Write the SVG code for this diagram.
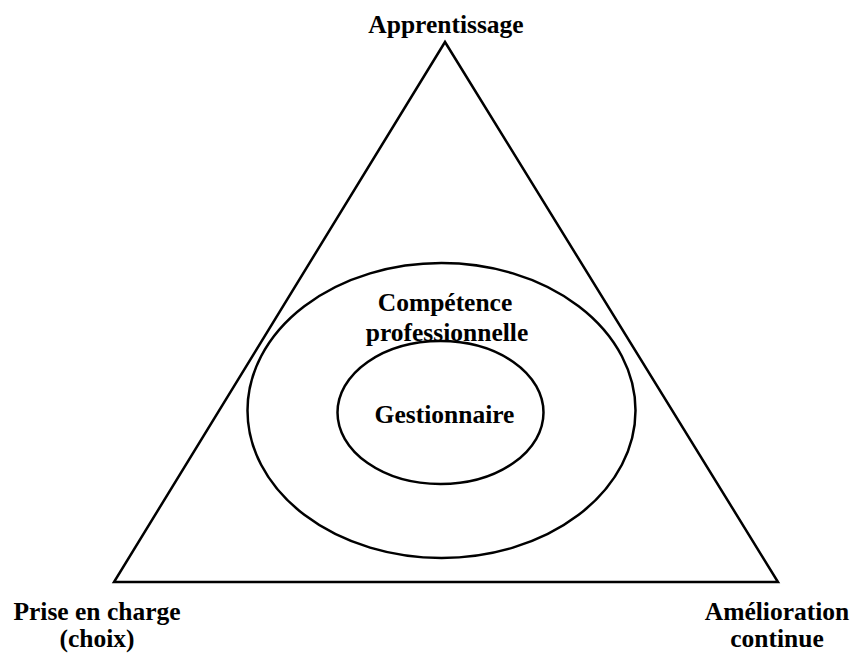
<svg xmlns="http://www.w3.org/2000/svg" width="856" height="654" viewBox="0 0 856 654">
<style>
.s{fill:none;stroke:#000;stroke-width:2.5}
.t{font-family:"Liberation Serif","Times New Roman",serif;font-weight:bold;font-size:25.5px;fill:#000;text-anchor:middle}
</style>
<rect width="856" height="654" fill="#fff"/>
<g id="triangle"><polygon class="s" points="445,42 114,582 778,582"/></g>
<g id="competence"><ellipse class="s" cx="441.5" cy="410.5" rx="194" ry="147.5"/>
<text class="t" x="445" y="311">Compétence</text>
<text class="t" x="447" y="341">professionnelle</text></g>
<g id="gestionnaire"><ellipse class="s" cx="440.5" cy="412.5" rx="103" ry="71.5"/>
<text class="t" x="444.5" y="423">Gestionnaire</text></g>
<g id="apprentissage"><text class="t" x="446" y="33">Apprentissage</text></g>
<g id="prise"><text class="t" x="97" y="620">Prise en charge</text>
<text class="t" x="97" y="647">(choix)</text></g>
<g id="amelioration"><text class="t" x="777" y="620">Amélioration</text>
<text class="t" x="777" y="647">continue</text></g>
<g id="connectors"></g>
</svg>
